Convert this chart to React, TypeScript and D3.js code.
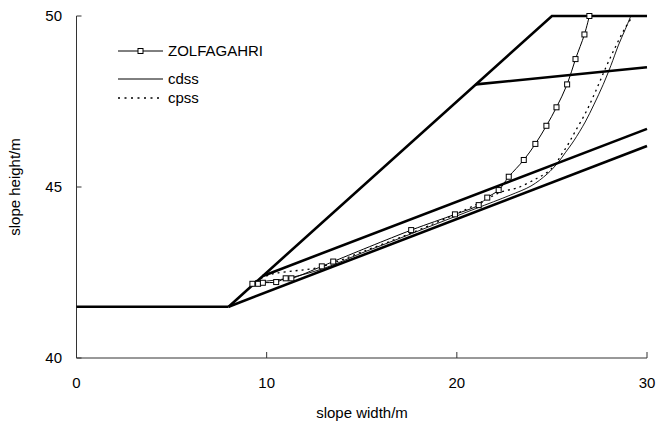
import { useEffect, useRef } from 'react';
import * as d3 from 'd3';

type Pt = [number, number];

// slope geometry (thick lines)
const groundLine: Pt[] = [[0, 41.5], [8, 41.5]];
const slopeFace: Pt[] = [[8, 41.5], [25, 50], [30, 50]];
const layerTop: Pt[] = [[21, 48], [30, 48.5]];
const weakUpper: Pt[] = [[9.8, 42.4], [30, 46.7]];
const weakLower: Pt[] = [[8, 41.5], [30, 46.2]];

// slip surfaces
const zolfagahri: Pt[] = [
  [9.25, 42.17], [9.55, 42.17], [9.8, 42.2], [10.5, 42.22], [11.0, 42.33], [11.3, 42.33],
  [12.9, 42.68], [13.5, 42.82], [17.6, 43.74], [19.9, 44.2], [21.15, 44.47], [21.6, 44.69],
  [22.2, 44.91], [22.73, 45.3], [23.52, 45.79], [24.13, 46.26], [24.71, 46.79], [25.24, 47.33],
  [25.8, 48.0], [26.24, 48.74], [26.71, 49.46], [26.97, 50.0],
];
const cdss: Pt[] = [
  [9.3, 42.2], [10, 42.25], [11, 42.32], [13, 42.62], [15, 43.07], [17, 43.5], [19, 43.94],
  [21, 44.37], [22.8, 44.76], [23.9, 45.03], [24.75, 45.38], [25.3, 45.7], [25.7, 46.0],
  [26.15, 46.35], [26.75, 46.9], [27.2, 47.4], [27.7, 48.0], [28.1, 48.55], [28.5, 49.15],
  [28.85, 49.6], [29.15, 50],
];
const cpss: Pt[] = [
  [9.4, 42.25], [10, 42.4], [10.5, 42.48], [11.5, 42.55], [12.5, 42.62], [13.5, 42.78],
  [15, 43.1], [17, 43.52], [19, 43.98], [20.5, 44.35], [21.5, 44.62], [22.3, 44.85],
  [23.2, 44.98], [24.2, 45.25], [24.8, 45.45], [25.2, 45.68], [25.5, 45.95], [25.8, 46.2],
  [26.2, 46.6], [26.8, 47.2], [27.3, 47.8], [27.8, 48.45], [28.3, 49.05], [28.8, 49.6],
  [29.25, 50],
];

const xTicks = [0, 10, 20, 30];
const yTicks = [40, 45, 50];
const legendNames = ['ZOLFAGAHRI', 'cdss', 'cpss'];

const W = 667;
const H = 427;

export default function App() {
  const ref = useRef<SVGSVGElement>(null);

  useEffect(() => {
    const svg = d3.select(ref.current);
    svg.selectAll('*').remove();

    const x = d3.scaleLinear().domain([0, 30]).range([76.5, 647]);
    const y = d3.scaleLinear().domain([40, 50]).range([358, 16]);
    const font = 'Arial, "Liberation Sans", sans-serif';

    const line = d3.line<Pt>().x(d => x(d[0])).y(d => y(d[1]));
    const smooth = d3.line<Pt>().x(d => x(d[0])).y(d => y(d[1])).curve(d3.curveCatmullRom);

    // axes
    const ax = svg.append('g').attr('stroke', '#333').attr('stroke-width', 1).attr('fill', 'none');
    ax.append('path').attr('d', `M${x(0)},${y(50)}V${y(40)}H${x(30)}`);
    yTicks.forEach(t => {
      ax.append('line').attr('x1', x(0)).attr('x2', x(0) + 5).attr('y1', y(t)).attr('y2', y(t));
    });
    xTicks.forEach(t => {
      ax.append('line').attr('x1', x(t)).attr('x2', x(t)).attr('y1', y(40)).attr('y2', y(40) - 6);
    });

    const lbl = svg.append('g').attr('font-family', font).attr('font-size', 15).attr('fill', '#000');
    xTicks.forEach(t => {
      lbl.append('text').attr('x', x(t)).attr('y', 388).attr('text-anchor', 'middle').text(t);
    });
    yTicks.forEach(t => {
      lbl.append('text').attr('x', 62).attr('y', y(t) + 5).attr('text-anchor', 'end').text(t);
    });
    lbl.append('text').attr('x', 362).attr('y', 418).attr('text-anchor', 'middle').text('slope width/m');
    lbl.append('text')
      .attr('transform', `translate(20,${y(45)}) rotate(-90)`)
      .attr('text-anchor', 'middle')
      .text('slope height/m');

    // slope geometry
    [groundLine, slopeFace, layerTop, weakUpper, weakLower].forEach(p => {
      svg.append('path').attr('d', line(p)).attr('fill', 'none').attr('stroke', '#000').attr('stroke-width', 2.6);
    });

    // slip surfaces
    svg.append('path').attr('d', smooth(cdss)).attr('fill', 'none').attr('stroke', '#000').attr('stroke-width', 0.9);
    svg.append('path').attr('d', smooth(cpss)).attr('fill', 'none').attr('stroke', '#000')
      .attr('stroke-width', 1.3).attr('stroke-dasharray', '2,4');
    svg.append('path').attr('d', smooth(zolfagahri)).attr('fill', 'none').attr('stroke', '#000').attr('stroke-width', 1);
    svg.append('g').selectAll('rect').data(zolfagahri).join('rect')
      .attr('x', d => x(d[0]) - 2.5).attr('y', d => y(d[1]) - 2.5)
      .attr('width', 5).attr('height', 5)
      .attr('fill', '#fff').attr('stroke', '#000').attr('stroke-width', 1);

    // legend
    const rows = [51, 79, 98];
    const lg = svg.append('g');
    legendNames.forEach((name, i) => {
      const ly = rows[i];
      const l = lg.append('line').attr('x1', 118).attr('x2', 163).attr('y1', ly).attr('y2', ly)
        .attr('stroke', '#000').attr('stroke-width', i === 2 ? 1.6 : 1);
      if (i === 2) l.attr('stroke-dasharray', '2,4.5');
      if (i === 0) {
        lg.append('rect').attr('x', 138).attr('y', ly - 2.5).attr('width', 5).attr('height', 5)
          .attr('fill', '#fff').attr('stroke', '#000');
      }
      lg.append('text').attr('x', 168).attr('y', ly + 5).attr('font-family', font).attr('font-size', 15).text(name);
    });
  }, []);

  return (
    <svg ref={ref} width={W} height={H} style={{ position: 'absolute', left: 0, top: 0, background: '#fff' }} />
  );
}
